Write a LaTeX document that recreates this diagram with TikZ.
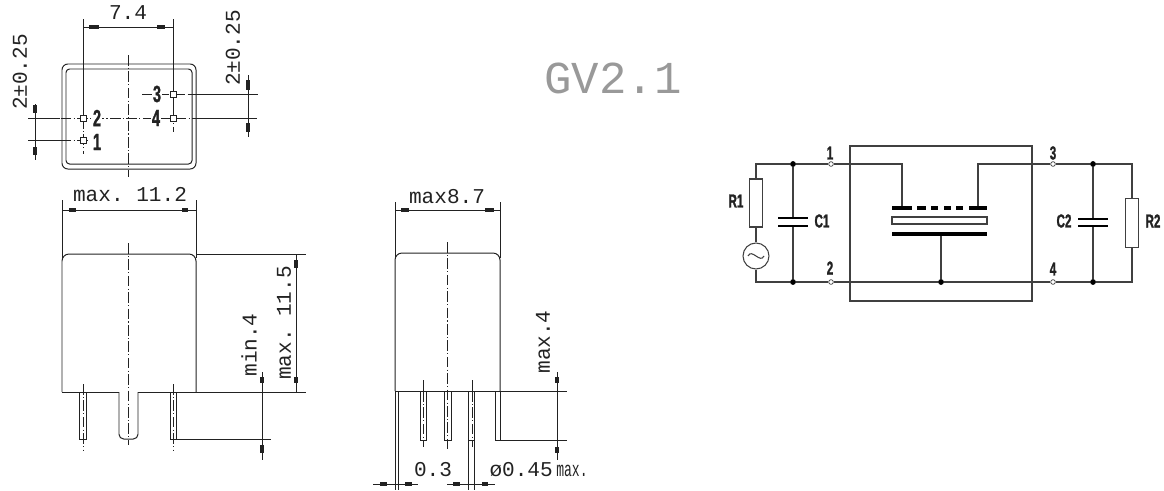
\documentclass[tikz,border=0pt]{standalone}
\usepackage{fontspec}
\usepackage{graphicx}
\setmainfont{Liberation Sans}
\setmonofont{Liberation Mono}
\newfontfamily\pinfont[FakeStretch=.62,BoldFeatures={FakeBold=1.2}]{Liberation Sans}
\usepackage{tikz}
\definecolor{inkgray}{HTML}{222222}
\begin{document}
\begin{tikzpicture}[x=.3mm,y=-.3mm,line width=.85pt,color=inkgray]
\tikzstyle{dimtext} = [inner sep=0pt,font=\ttfamily\fontsize{18}{18}\selectfont]
\tikzstyle{pinlabel} = [inner sep=0pt,font=\pinfont\bfseries\fontsize{20}{20}\selectfont]
\tikzstyle{cirlabel} = [inner sep=0pt,font=\pinfont\bfseries\fontsize{16}{16}\selectfont]
\tikzstyle{centerline} = [dash pattern=on 9pt off 2pt on 1pt off 2pt,line width=.7pt]
\tikzstyle{tick} = [line width=2.8pt]
\tikzstyle{pin} = [draw,fill=white,shape=rectangle,minimum size=5pt,inner sep=0pt,line width=.7pt]
\tikzstyle{wire} = [line width=.9pt,color=black!75]
\tikzstyle{dot} = [draw=black,fill=black,shape=circle,minimum size=4pt,inner sep=0pt]
\tikzstyle{port} = [draw=black!75,fill=white,shape=circle,minimum size=4pt,inner sep=0pt,line width=.6pt]
\tikzstyle{part} = [draw=black!75,fill=white,shape=rectangle,inner sep=0pt,line width=.9pt]
\useasboundingbox (0,0) rectangle (1164,490);

\node [inner sep=0pt,text=black!40,font=\ttfamily\fontsize{39}{39}\selectfont] (title) at (613,78) {GV2.1};

\draw [rounded corners=5pt] (62,64) rectangle (196,169);
\draw [rounded corners=3pt] (66,69) rectangle (192,164);
\draw [centerline] (128,55) -- (128,177);
\draw [centerline] (28,118) -- (196,118);
\draw [centerline] (28,140) -- (88,140);
\draw [centerline] (142,94) -- (257,94);
\draw (28,118) -- (60,118);
\draw (28,140) -- (63,140);
\draw (188,94) -- (257,94);
\draw (196,118) -- (257,118);
\draw (83,19) -- (83,118);
\draw (173,19) -- (173,118);
\draw [centerline] (83,118) -- (83,154);
\draw [centerline] (173,94) -- (173,132);
\node [pin] (p1) at (83,140) {};
\node [pin] (p2) at (83,118) {};
\node [pin] (p3) at (173,94) {};
\node [pin] (p4) at (173,118) {};
\node [pinlabel,fill=white,inner xsep=1pt] (l1) at (97,142) {1};
\node [pinlabel,fill=white,inner xsep=1pt] (l2) at (97,118) {2};
\node [pinlabel,fill=white,inner xsep=1pt] (l3) at (157,94) {3};
\node [pinlabel,fill=white,inner xsep=1pt] (l4) at (156,118) {4};
\draw (83,27) -- (173,27);
\draw [tick] (89,27) -- (99,27);
\draw [tick] (157,27) -- (165,27);
\node [dimtext] (d74) at (128,13) {7.4};
\draw (35,104) -- (35,160);
\draw [tick] (35,105) -- (35,113);
\draw [tick] (35,147) -- (35,155);
\node [dimtext,rotate=90] (d2l) at (20,72) {2±0.25};
\draw (248,75) -- (248,137);
\draw [tick] (248,80) -- (248,90);
\draw [tick] (248,123) -- (248,132);
\node [dimtext,rotate=90] (d2r) at (233,48) {2±0.25};

\draw [rounded corners=6pt] (62,392) -- (62,254) -- (196,254) -- (196,392);
\draw (62,392) -- (119,392);
\draw (138,392) -- (196,392);
\draw [rounded corners=4pt] (119,392) -- (119,439) -- (138,439) -- (138,392);
\draw [centerline] (128,243) -- (128,445);
\draw (128,243) -- (128,254);
\draw (79,392) rectangle (86,439);
\draw (170,392) rectangle (176,439);
\draw [centerline] (83,384) -- (83,450);
\draw [centerline] (173,384) -- (173,450);
\draw (62,200) -- (62,258);
\draw (196,200) -- (196,258);
\draw (62,210) -- (196,210);
\draw [tick] (69,210) -- (76,210);
\draw [tick] (182,210) -- (188,210);
\node [dimtext] (d112) at (130,195) {max. 11.2};
\draw (196,254) -- (306,254);
\draw (196,392) -- (306,392);
\draw (176,439) -- (271,439);
\draw (296,254) -- (296,392);
\draw [tick] (296,260) -- (296,268);
\draw [tick] (296,377) -- (296,383);
\node [dimtext,rotate=90] (d115) at (284,323) {max. 11.5};
\draw (262,372) -- (262,460);
\draw [tick] (262,377) -- (262,383);
\draw [tick] (262,445) -- (262,453);
\node [dimtext,rotate=90] (dmin) at (249,345) {min.4};

\draw [rounded corners=6pt] (395,391) -- (395,253) -- (500,253) -- (500,391);
\draw (395,391) -- (500,391);
\draw (495,391) -- (495,440) -- (500,440) -- (500,391);
\draw [centerline] (447,242) -- (447,450);
\draw (447,242) -- (447,253);
\draw (420,391) rectangle (426,440);
\draw (444,391) rectangle (451,440);
\draw (468,391) rectangle (474,440);
\draw (423,380) -- (423,391);
\draw (472,380) -- (472,391);
\draw [centerline] (423,391) -- (423,447);
\draw [centerline] (472,391) -- (472,447);
\draw (395,202) -- (395,258);
\draw (500,202) -- (500,258);
\draw (395,210) -- (500,210);
\draw [tick] (401,210) -- (409,210);
\draw [tick] (485,210) -- (494,210);
\node [dimtext] (d87) at (447,197) {max8.7};
\draw (500,391) -- (567,391);
\draw (500,440) -- (567,440);
\draw (557,372) -- (557,460);
\draw [tick] (557,377) -- (557,383);
\draw [tick] (557,447) -- (557,453);
\node [dimtext,rotate=90] (dmax) at (543,342) {max.4};
\draw (395,391) -- (395,490);
\draw (398,391) -- (398,490);
\draw (468,440) -- (468,490);
\draw (474,440) -- (474,490);
\draw (373,484) -- (418,484);
\draw [tick] (380,484) -- (387,484);
\draw [tick] (405,484) -- (412,484);
\draw (447,484) -- (495,484);
\draw [tick] (453,484) -- (460,484);
\draw [tick] (482,484) -- (488,484);
\node [dimtext] (d03) at (433,470) {0.3};
\node [dimtext,anchor=west] (d045) at (489,470) {ø0.45\,\scalebox{.62}[1]{max.}};

\draw [line width=.9pt,color=black!75] (850,146) rectangle (1032,301);

\node [dot] (j1) at (793,164) {};
\node [dot] (j2) at (793,282) {};
\node [dot] (j3) at (1093,164) {};
\node [dot] (j4) at (1093,282) {};
\node [dot] (j5) at (941,282) {};
\node [port] (t1) at (831,164) {};
\node [port] (t2) at (831,282) {};
\node [port] (t3) at (1053,164) {};
\node [port] (t4) at (1053,282) {};
\node [part,minimum width=13*.3mm,minimum height=48*.3mm] (r1) at (756,203) {};
\node [part,minimum width=13*.3mm,minimum height=49*.3mm] (r2) at (1132,223) {};
\node [part,shape=circle,minimum size=26*.3mm] (src) at (756,256) {};
\draw [wire] (748,256) .. controls (752,248) and (760,264) .. (764,256);
\coordinate (c1a) at (793,218);
\coordinate (c1b) at (793,226);
\coordinate (c2a) at (1093,219);
\coordinate (c2b) at (1093,226);
\coordinate (a1) at (902,208);
\coordinate (a3) at (978,208);
\coordinate (k1) at (941,234);
\coordinate (nw) at (756,164);
\coordinate (sw) at (756,282);
\coordinate (ne) at (1132,164);
\coordinate (se) at (1132,282);

\draw [wire] (r1.north) -- (nw) -- (j1);
\draw [wire] (j1) -- (t1);
\draw [wire] (t1) -| (a1);
\draw [wire] (r1.south) -- (src.north);
\draw [wire] (src.south) -- (sw) -- (j2);
\draw [wire] (j2) -- (t2);
\draw [wire] (t2) -- (j5);
\draw [wire] (j5) -- (t4);
\draw [wire] (t4) -- (j4);
\draw [wire] (j4) -- (se) -- (r2.south);
\draw [wire] (r2.north) -- (ne) -- (j3);
\draw [wire] (j3) -- (t3);
\draw [wire] (t3) -| (a3);
\draw [wire] (j1) -- (c1a);
\draw [wire] (c1b) -- (j2);
\draw [wire] (j3) -- (c2a);
\draw [wire] (c2b) -- (j4);
\draw [wire] (k1) -- (j5);
\draw [line width=1.2pt,color=black] (778,218) -- (808,218);
\draw [line width=1.2pt,color=black] (778,226) -- (808,226);
\draw [line width=1.2pt,color=black] (1078,219) -- (1108,219);
\draw [line width=1.2pt,color=black] (1078,226) -- (1108,226);
\draw [line width=3.4pt,color=black] (892,208) -- (912,208);
\draw [line width=3.4pt,color=black] (917,208) -- (926,208);
\draw [line width=3.4pt,color=black] (931,208) -- (938,208);
\draw [line width=3.4pt,color=black] (944,208) -- (951,208);
\draw [line width=3.4pt,color=black] (956,208) -- (963,208);
\draw [line width=3.4pt,color=black] (969,208) -- (987,208);
\draw [line width=.9pt,color=black!75] (892,217) rectangle (987,224);
\draw [line width=3.4pt,color=black] (892,234) -- (987,234);

\node [cirlabel] (nr1) at (736,201) {R1};
\node [cirlabel] (nc1) at (822,221) {C1};
\node [cirlabel] (nc2) at (1064,221) {C2};
\node [cirlabel] (nr2) at (1153,221) {R2};
\node [cirlabel] (n1) at (830,153) {1};
\node [cirlabel] (n2) at (830,268) {2};
\node [cirlabel] (n3) at (1053,153) {3};
\node [cirlabel] (n4) at (1053,269) {4};
\end{tikzpicture}
\end{document}
